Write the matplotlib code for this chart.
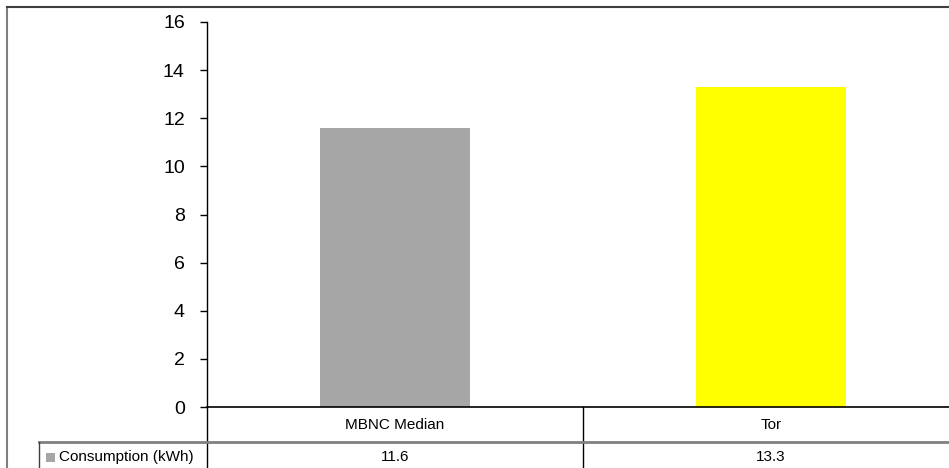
import matplotlib
matplotlib.use("Agg")
import matplotlib.pyplot as plt
from matplotlib.lines import Line2D
from matplotlib.patches import Rectangle
from matplotlib.transforms import blended_transform_factory

categories = ["MBNC Median", "Tor"]
consumption = [11.6, 13.3]
series_name = "Consumption (kWh)"
bar_colors = ["#A6A6A6", "#FFFF00"]
yticks = [0, 2, 4, 6, 8, 10, 12, 14, 16]

W, H = 949, 468
plt.rcParams["font.family"] = ["Liberation Sans", "DejaVu Sans"]

fig = plt.figure(figsize=(W / 100, H / 100), dpi=100)

# pixel helpers (origin top-left)
def fx(px):
    return px / W

def fy(py):
    return 1 - py / H

ax = fig.add_axes([fx(207), fy(407), 752 / W, (407 - 22) / H])
xpos = list(range(len(categories)))
ax.bar(xpos, consumption, width=0.4, color=bar_colors, zorder=2)
ax.set_xlim(-0.5, len(categories) - 0.5)
ax.set_ylim(0, 16)
ax.set_yticks(yticks)
ax.set_xticks([])
ax.tick_params(axis="y", labelsize=14, length=5, width=1, pad=11, color="black")
for s in ["top", "right"]:
    ax.spines[s].set_visible(False)
ax.spines["left"].set_linewidth(1)
ax.spines["bottom"].set_linewidth(1.2)

# outer chart border
fig.add_artist(Line2D([fx(7), fx(7)], [fy(7), 0], transform=fig.transFigure,
                      color="#7f7f7f", lw=1.5))
fig.add_artist(Line2D([fx(7), 1], [fy(7), fy(7)], transform=fig.transFigure,
                      color="#404040", lw=1.5))

# data table below the plot area
fig.add_artist(Line2D([fx(207), fx(207)], [fy(407), 0], transform=fig.transFigure,
                      color="black", lw=1))
fig.add_artist(Line2D([fx(583), fx(583)], [fy(407), 0], transform=fig.transFigure,
                      color="black", lw=1))
fig.add_artist(Line2D([fx(39), 1], [fy(442), fy(442)], transform=fig.transFigure,
                      color="#808080", lw=2))
fig.add_artist(Line2D([fx(39), fx(39)], [fy(442), 0], transform=fig.transFigure,
                      color="#404040", lw=1))

tr = blended_transform_factory(ax.transData, fig.transFigure)
for i, (cat, val) in enumerate(zip(categories, consumption)):
    fig.text(i, fy(425), cat, transform=tr, ha="center", va="center", fontsize=11)
    fig.text(i, fy(457), f"{val:.1f}", transform=tr, ha="center", va="center", fontsize=11)

fig.add_artist(Rectangle((fx(46), fy(462)), 9 / W, 9 / H, transform=fig.transFigure,
                         facecolor=bar_colors[0], edgecolor="none"))
fig.text(fx(59), fy(457), series_name, ha="left", va="center", fontsize=11)

fig.savefig("out.png", dpi=100)
